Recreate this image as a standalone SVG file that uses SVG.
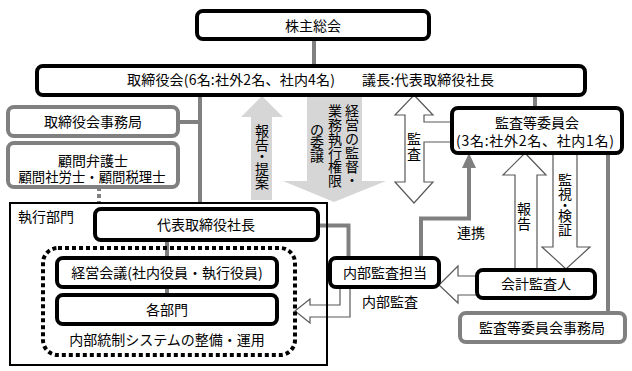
<svg xmlns="http://www.w3.org/2000/svg" width="632" height="371" viewBox="0 0 632 371">
<style>
text{font-family:"Noto Sans CJK JP","Noto Sans",sans-serif;font-size:14px;fill:#000}
.c{text-anchor:middle}
.bk{fill:#fff;stroke:#000;stroke-width:4}
.gb{fill:#fff;stroke:#808080;stroke-width:4}
.gl{fill:none;stroke:#808080;stroke-width:4}
.ho{fill:#fff;stroke:#595959;stroke-width:1.2;stroke-linejoin:miter}
.big{fill:#d6d6d6;stroke:none}
</style>
<rect width="632" height="371" fill="#fff"/>
<g id="connectors">
  <line class="gl" x1="314" y1="39" x2="314" y2="66"/>
  <line class="gl" x1="200" y1="95" x2="200" y2="203"/>
  <line class="gl" x1="178" y1="122" x2="200" y2="122"/>
  <line x1="99" y1="187" x2="99" y2="203" stroke="#808080" stroke-width="4" stroke-dasharray="4 3"/>
  <line class="gl" x1="167" y1="240" x2="167" y2="258"/>
  <line class="gl" x1="167" y1="287" x2="167" y2="295"/>
  <line class="gl" x1="535" y1="95" x2="535" y2="108"/>
  <line class="gl" x1="608" y1="153" x2="608" y2="313"/>
  <path class="gl" d="M318 225.5H348.5V258"/>
  <path class="gl" d="M421 258V218.5H469V166"/>
  <polygon points="469,153 462,168 476,168" fill="#808080"/>
  <polygon class="big" points="262,96 283,117 272,117 272,200 251,200 251,117 241,117"/>
  <polygon class="big" points="307,95 362,95 362,181 386,181 334,202 283,181 307,181"/>
  <polygon class="ho" points="414,95 433,115 424,115 424,122 452,122 452,142 424,142 424,182 433,182 414,203 395,182 405,182 405,115 395,115"/>
  <polygon class="ho" points="525,153 546,175 537,175 537,270 515,270 515,175 503,175"/>
  <polygon class="ho" points="553,153 577,153 577,247 590,247 566,269 542,247 553,247"/>
  <polygon class="ho" points="477,276 458,276 458,266 439,285 458,303 458,295 477,295"/>
  <polygon class="ho" points="340,287 340,305 310,305 310,299 295,311 310,323 310,317 350,317 350,287"/>
  <text class="c"><tspan x="262" y="136">報</tspan><tspan x="262" y="149.5">告</tspan><tspan x="262" y="161">・</tspan><tspan x="262" y="173.5">提</tspan><tspan x="262" y="187.5">案</tspan></text>
  <text class="c"><tspan x="352" y="116">経</tspan><tspan x="352" y="130">営</tspan><tspan x="352" y="144">の</tspan><tspan x="352" y="158">監</tspan><tspan x="352" y="172">督</tspan><tspan x="352" y="185">・</tspan></text>
  <text class="c"><tspan x="335" y="116">業</tspan><tspan x="335" y="130">務</tspan><tspan x="335" y="144">執</tspan><tspan x="335" y="158">行</tspan><tspan x="335" y="172">権</tspan><tspan x="335" y="186">限</tspan></text>
  <text class="c"><tspan x="317" y="135">の</tspan><tspan x="317" y="148">委</tspan><tspan x="317" y="161">譲</tspan></text>
  <text class="c"><tspan x="414" y="144">監</tspan><tspan x="414" y="158.5">査</tspan></text>
  <text class="c"><tspan x="524" y="213.5">報</tspan><tspan x="524" y="228.5">告</tspan></text>
  <text class="c"><tspan x="565" y="185">監</tspan><tspan x="565" y="198.5">視</tspan><tspan x="565" y="209.5">・</tspan><tspan x="565" y="220.5">検</tspan><tspan x="565" y="234.5">証</tspan></text>
  <text class="c" x="471" y="238">連携</text>
  <text class="c" x="390" y="307">内部監査</text>
</g>
<g id="shitsugyo">
  <rect x="10" y="203" width="317" height="162" fill="none" stroke="#000" stroke-width="2"/>
  <text x="18" y="222">執行部門</text>
</g>
<g id="kabunushi">
  <rect class="bk" x="197" y="11" width="232" height="28" rx="6"/>
  <text class="c" x="313" y="31">株主総会</text>
</g>
<g id="torishimariyakukai">
  <rect class="bk" x="37" y="66" width="548" height="29" rx="6"/>
  <text x="127" y="85" textLength="208" lengthAdjust="spacing">取締役会(6名:社外2名、社内4名)</text>
  <text x="362" y="85" textLength="132" lengthAdjust="spacing">議長:代表取締役社長</text>
</g>
<g id="jimukyoku">
  <rect class="gb" x="8" y="107" width="170" height="29" rx="6"/>
  <text class="c" x="93" y="127">取締役会事務局</text>
</g>
<g id="komon">
  <rect class="gb" x="8" y="143" width="170" height="44" rx="6"/>
  <text class="c" x="93" y="166">顧問弁護士</text>
  <text class="c" x="92" y="182" textLength="147" lengthAdjust="spacingAndGlyphs">顧問社労士・顧問税理士</text>
</g>
<g id="kansa-iinkai">
  <rect class="bk" x="452" y="108" width="170" height="45" rx="6"/>
  <text class="c" x="537" y="128">監査等委員会</text>
  <text class="c" x="535" y="146" textLength="158" lengthAdjust="spacing">(3名:社外2名、社内1名)</text>
</g>
<g id="daihyo">
  <rect class="bk" x="95" y="209" width="223" height="31" rx="6"/>
  <text class="c" x="206" y="230">代表取締役社長</text>
</g>
<g id="naibutosei">
  <rect x="43" y="248" width="252" height="107" rx="15" fill="none" stroke="#000" stroke-width="4" stroke-dasharray="4 3"/>
  <text class="c" x="167" y="345">内部統制システムの整備・運用</text>
</g>
<g id="keiei-kaigi">
  <rect class="bk" x="57" y="258" width="220" height="29" rx="6"/>
  <text class="c" x="167" y="278">経営会議(社内役員・執行役員)</text>
</g>
<g id="kakubumon">
  <rect class="bk" x="57" y="295" width="220" height="29" rx="6"/>
  <text class="c" x="167" y="315">各部門</text>
</g>
<g id="naibu-kansa">
  <rect class="bk" x="330" y="258" width="109" height="29" rx="6"/>
  <text class="c" x="385" y="278">内部監査担当</text>
</g>
<g id="kaikei">
  <rect class="bk" x="477" y="270" width="118" height="28" rx="6"/>
  <text class="c" x="536" y="289">会計監査人</text>
</g>
<g id="kansa-jimukyoku">
  <rect class="gb" x="460" y="313" width="165" height="29" rx="6"/>
  <text class="c" x="542" y="333">監査等委員会事務局</text>
</g>
</svg>
